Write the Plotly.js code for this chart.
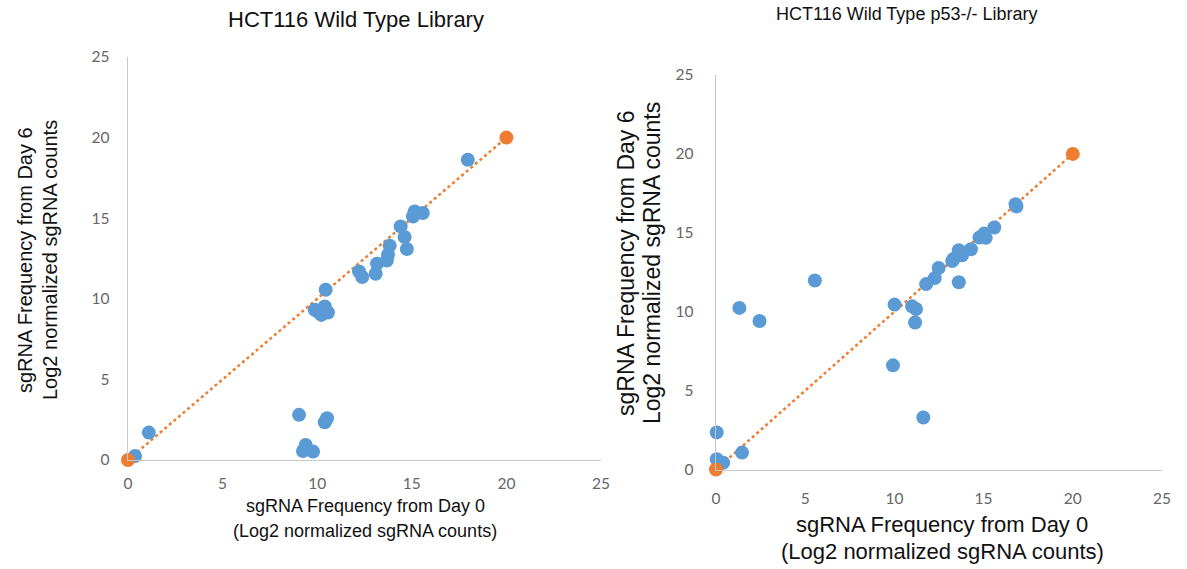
<!DOCTYPE html>
<html>
<head>
<meta charset="utf-8">
<script src="https://cdn.plot.ly/plotly-3.0.1.min.js"></script>
<style>html,body{margin:0;padding:0;background:#fff;}#chart{width:1187px;height:569px;}</style>
</head>
<body>
<div id="chart"></div>
<script>
// Left panel: HCT116 Wild Type Library
var wtDay0 = [0.37, 1.1, 8.46, 9.04, 9.25, 9.39, 9.78, 10.40, 10.52,
  9.87, 10.04, 10.22, 10.40, 10.57, 10.45, 12.21, 12.38, 13.09, 13.16,
  13.68, 13.74, 13.83, 14.74, 14.62, 14.41, 15.06, 15.15, 15.58, 17.96];
var wtDay6 = [0.25, 1.7, -0.1, 2.80, 0.56, 0.93, 0.52, 2.34, 2.59,
  9.32, 9.21, 9.00, 9.52, 9.15, 10.56, 11.70, 11.35, 11.55, 12.17,
  12.38, 12.73, 13.29, 13.09, 13.83, 14.49, 15.11, 15.42, 15.32, 18.63];

// Right panel: HCT116 Wild Type p53-/- Library
var p53Day0 = [0.04, 0.04, 0.40, 1.46, 1.31, 2.44, 5.54, 9.92, 10.01, 10.99,
  11.21, 11.16, 11.62, 11.78, 12.26, 12.48, 13.24, 13.33, 13.61, 13.79,
  13.61, 14.29, 14.77, 15.03, 15.12, 15.60, 16.79, 16.84];
var p53Day6 = [2.35, 0.65, 0.43, 1.07, 10.24, 9.41, 11.98, 6.60, 10.45, 10.34,
  10.17, 9.32, 3.30, 11.75, 12.13, 12.77, 13.21, 13.36, 13.89, 13.57,
  11.87, 13.96, 14.70, 14.95, 14.68, 15.34, 16.81, 16.67];

// Reference (identity) line endpoints
var refX = [0, 20];
var refY = [0, 20];

var panelTitles = ["HCT116 Wild Type Library", "HCT116 Wild Type p53-/- Library"];
var xTitleLines = ["sgRNA Frequency from Day 0", "(Log2 normalized sgRNA counts)"];
var yTitleLines = ["sgRNA Frequency from Day 6", "Log2 normalized sgRNA counts"];
var tickVals = [0, 5, 10, 15, 20, 25];

var BLUE = '#5B9BD5', ORANGE = '#ED7D31';
var W = 1187, H = 569;

function px(x){return x / W;}
function py(y){return 1 - y / H;}

var MS = 14;
var traces = [
  {x: refX, y: refY, xaxis: 'x', yaxis: 'y', mode: 'lines', line: {color: ORANGE, dash: 'dot', width: 2.5}, cliponaxis: false, hoverinfo: 'skip'},
  {x: wtDay0, y: wtDay6, xaxis: 'x', yaxis: 'y', mode: 'markers', marker: {color: BLUE, size: MS}, cliponaxis: false},
  {x: refX, y: refY, xaxis: 'x', yaxis: 'y', mode: 'markers', marker: {color: ORANGE, size: MS}, cliponaxis: false},
  {x: refX, y: refY, xaxis: 'x2', yaxis: 'y2', mode: 'lines', line: {color: ORANGE, dash: 'dot', width: 2.5}, cliponaxis: false, hoverinfo: 'skip'},
  {x: p53Day0, y: p53Day6, xaxis: 'x2', yaxis: 'y2', mode: 'markers', marker: {color: BLUE, size: MS}, cliponaxis: false},
  {x: refX, y: refY, xaxis: 'x2', yaxis: 'y2', mode: 'markers', marker: {color: ORANGE, size: MS}, cliponaxis: false}
];

function axis(domain, anchor, standoff){
  return {
    domain: domain, anchor: anchor, range: [0, 25], tickvals: tickVals,
    showgrid: false, zeroline: false, showline: true, linecolor: '#c8c8c8', linewidth: 1.3,
    ticks: '', ticklabelstandoff: standoff,
    tickfont: {family: 'Lato, "Open Sans", sans-serif', size: 15.5, color: '#666666'},
    fixedrange: true
  };
}

function f(size){ return {family: '"Liberation Sans", Arial, sans-serif', size: size, color: '#111111'}; }

function a(text, x, y, size, angle){
  var o = {text: text, x: px(x), y: py(y), xref: 'paper', yref: 'paper', showarrow: false, font: f(size), xanchor: 'center', yanchor: 'middle'};
  if (angle) o.textangle = angle;
  return o;
}

var ann = [
  a(panelTitles[0], 356, 20, 22),
  a(panelTitles[1], 906, 14, 18),
  a(xTitleLines[0], 365, 506, 18),
  a(xTitleLines[1], 365, 531, 18),
  a(xTitleLines[0], 942, 524, 22),
  a(xTitleLines[1], 942, 551, 22),
  a(yTitleLines[0], 25, 260, 20, -90),
  a(yTitleLines[1], 50, 260, 20, -90),
  a(yTitleLines[0], 626, 263, 23, -90),
  a(yTitleLines[1], 652, 263, 23, -90)
];

var layout = {
  width: W, height: H, margin: {l: 0, r: 0, t: 0, b: 0},
  paper_bgcolor: '#ffffff', plot_bgcolor: '#ffffff', showlegend: false,
  xaxis: axis([px(128), px(601)], 'y', 9),
  yaxis: axis([py(460), py(57)], 'x', 14),
  xaxis2: axis([px(716), px(1162)], 'y2', 15),
  yaxis2: axis([py(469.5), py(75)], 'x2', 18),
  annotations: ann
};

Plotly.newPlot('chart', traces, layout, {displayModeBar: false, staticPlot: true});
</script>
</body>
</html>
